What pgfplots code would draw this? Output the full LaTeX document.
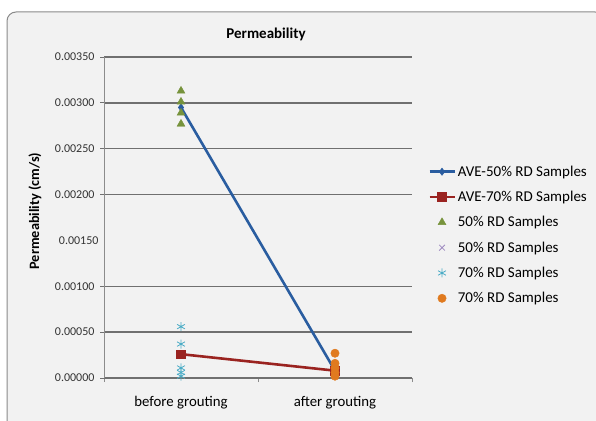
\documentclass[border=0pt]{standalone}
\usepackage{pgfplots}
\pgfplotsset{compat=1.18}
\usepackage{fontspec}
\setmainfont{Carlito}

\definecolor{chartbg}{HTML}{F2F2F2}
\definecolor{chartborder}{HTML}{8A8A8A}
\definecolor{gridgray}{HTML}{707070}
\definecolor{axisgray}{HTML}{8C8C8C}
\definecolor{aveblue}{HTML}{2A5DA0}
\definecolor{avered}{HTML}{9A2320}
\definecolor{samgreen}{HTML}{77933C}
\definecolor{sampurple}{HTML}{9E8AC0}
\definecolor{samaqua}{HTML}{4BACC6}
\definecolor{samorange}{HTML}{E07A1F}

\begin{document}
\begin{tikzpicture}[x=1pt,y=1pt]
\clip (0,0) rectangle (596,420);
\fill[white] (0,0) rectangle (596,420);
% chart area
\draw[chartborder, fill=chartbg, rounded corners=9pt, line width=1pt] (7,-14) rectangle (604,408);
\begin{axis}[
  at={(104pt,42pt)}, anchor=south west,
  scale only axis, width=308pt, height=321pt,
  xmin=-0.5, xmax=1.5, ymin=0, ymax=0.0035,
  axis lines*=left,
  axis line style={axisgray, line width=1pt},
  x axis line style={gridgray, line width=1.3pt},
  font=\fontsize{13}{15}\selectfont,
  % category ticks between the groups, names centred under each group
  xtick={-0.5,0.5,1.5}, xticklabels={},
  extra x ticks={0,1},
  extra x tick labels={before grouting, after grouting},
  extra x tick style={major tick length=0pt, xticklabel style={yshift=-15pt}},
  x tick style={axisgray, line width=1pt},
  ytick={0,0.0005,0.001,0.002,0.0025,0.003,0.0035},
  extra y ticks={0.0015},
  extra y tick style={grid=none, major tick length=0pt},
  y tick style={gridgray, line width=1pt},
  tick align=outside, major tick length=4pt,
  scaled y ticks=false,
  yticklabel style={/pgf/number format/fixed, /pgf/number format/fixed zerofill,
    /pgf/number format/precision=5, /pgf/number format/assume math mode=true,
    font=\fontsize{12}{14}\selectfont, text=black!80, xshift=-2pt},
  xticklabel style={font=\fontsize{14.8}{16}\selectfont},
  ymajorgrids,
  grid style={gridgray, line width=1.3pt},
  title={\textbf{Permeability}},
  title style={at={(axis description cs:0.526,1.053)}, anchor=center,
    font=\fontsize{15}{17}\selectfont},
  ylabel={\textbf{Permeability (cm/s)}},
  ylabel style={at={(axis description cs:-0.224,0.52)}, anchor=center,
    font=\fontsize{14.3}{16}\selectfont},
  clip=false,
  legend style={at={(axis description cs:1.052,0.668)}, anchor=north west,
    draw=none, fill=none, font=\fontsize{15}{17}\selectfont,
    row sep=9.4pt, inner sep=0pt,
    /tikz/every even column/.append style={column sep=3pt}},
  legend cell align=left,
  legend image code/.code={%
    \draw[mark repeat=2, mark phase=2]
      plot coordinates {(0pt,0pt) (12.5pt,0pt) (25pt,0pt)};},
]
% averages
\addplot[aveblue, line width=2.6pt, mark=diamond*, mark size=3.6pt,
  mark options={solid, line width=0.5pt}]
  coordinates {(0,0.00295) (1,0.00008)};
\addlegendentry{AVE-50\% RD Samples}
\addplot[avered, line width=2.6pt, mark=square*, mark size=4.3pt,
  mark options={solid, line width=0.5pt}]
  coordinates {(0,0.00026) (1,0.00008)};
\addlegendentry{AVE-70\% RD Samples}
% individual samples
\addplot[only marks, samgreen, mark=triangle*, mark size=4.6pt]
  coordinates {(0,0.00313) (0,0.00301) (0,0.00289) (0,0.00277)};
\addlegendentry{50\% RD Samples}
\addplot[only marks, sampurple, mark=x, mark size=4pt, line width=0.8pt]
  coordinates {(1,0.00010) (1,0.00006) (1,0.00004) (1,0.00002)};
\addlegendentry{50\% RD Samples}
\addplot[only marks, samaqua, mark=asterisk, mark size=4.5pt, line width=0.8pt]
  coordinates {(0,0.00056) (0,0.00037) (0,0.00011) (0,0.00006) (0,0.00002)};
\addlegendentry{70\% RD Samples}
\addplot[only marks, samorange, mark=*, mark size=4.2pt,
  mark options={draw=samorange}]
  coordinates {(1,0.00027) (1,0.00016) (1,0.00011) (1,0.00006) (1,0.00002)};
\addlegendentry{70\% RD Samples}
\end{axis}
\end{tikzpicture}
\end{document}
